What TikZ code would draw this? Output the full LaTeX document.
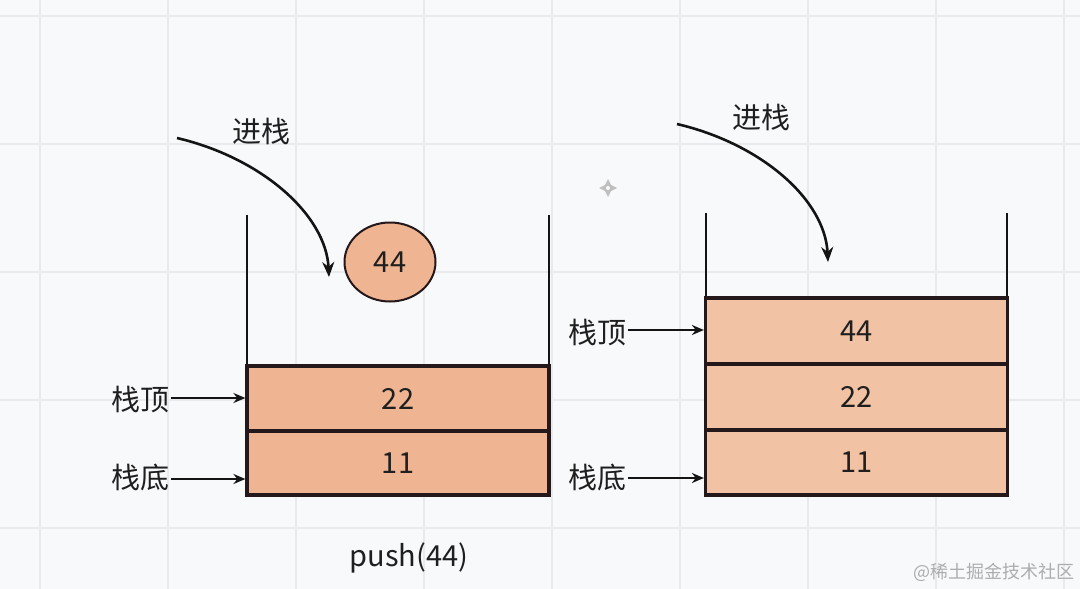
\documentclass[tikz,border=0pt]{standalone}
\usepackage{fontspec}
\setmainfont{Noto Sans CJK SC}
\usetikzlibrary{arrows.meta,shapes.geometric}
\definecolor{bg}{HTML}{F8F9FB}
\definecolor{gridc}{HTML}{E9EAEE}
\definecolor{fillA}{HTML}{EFB592}
\definecolor{fillB}{HTML}{F2C2A4}
\definecolor{edge}{HTML}{24181A}
\definecolor{wm}{HTML}{ADADAD}
\tikzset{
  big/.style={font=\fontsize{29}{34}\selectfont, text=black!88, inner sep=0pt},
  cell/.style={draw=edge, line width=3.2pt, minimum width=302pt, inner sep=0pt, font=\fontsize{29}{34}\selectfont, text=black!88},
  wall/.style={line width=2.6pt, draw=black!92},
  pointer/.style={line width=2.4pt, draw=black!92, -{Stealth[length=12pt,width=10pt]}},
  pushcurve/.style={line width=2.6pt, draw=black!92, -{Stealth[length=15pt,width=12pt]}}
}
\begin{document}
\begin{tikzpicture}[x=1pt,y=-1pt]
\useasboundingbox (0,0) rectangle (1080,589);
\fill[bg] (0,0) rectangle (1080,589);
% grid
\foreach \gx in {40,168,...,1064} \draw[gridc, line width=1.2pt] (\gx,0) -- (\gx,589);
\foreach \gy in {16,144,...,589} \draw[gridc, line width=1.2pt] (0,\gy) -- (1080,\gy);

% left stack
\coordinate (lwl1) at (247,215); \coordinate (lwl2) at (247,495);
\coordinate (lwr1) at (549,215); \coordinate (lwr2) at (549,495);
\draw[wall] (lwl1) -- (lwl2);
\draw[wall] (lwr1) -- (lwr2);
\node[cell, fill=fillA, minimum height=65pt] (b22) at (398,398.5) {22};
\node[cell, fill=fillA, minimum height=64pt] (b11) at (398,463) {11};
\node[draw=edge, line width=2pt, fill=fillA, ellipse, minimum width=91pt, minimum height=79pt, inner sep=0pt, font=\fontsize{29}{34}\selectfont, text=black!88] (c44) at (390,262) {44};

\node[big] (inL) at (261,131) {进栈};
\coordinate (sL) at (177,138);
\draw[pushcurve] (sL) .. controls (262,158) and (326,215) .. (329,277);

\node[big] (topL) at (140,400) {栈顶};
\node[big] (botL) at (140,477) {栈底};
\draw[pointer] (topL.east) ++(2,-2) coordinate (tLs) (tLs) -- (tLs -| b22.west);
\draw[pointer] (botL.east) ++(2,2) coordinate (bLs) (bLs) -- (bLs -| b11.west);

\node[big] (push) at (409,558) {push(44)};

% right stack
\coordinate (rwl1) at (706,213); \coordinate (rwl2) at (706,495);
\coordinate (rwr1) at (1007,213); \coordinate (rwr2) at (1007,495);
\draw[wall] (rwl1) -- (rwl2);
\draw[wall] (rwr1) -- (rwr2);
\node[cell, fill=fillB, minimum height=66pt] (r44) at (856.5,331) {44};
\node[cell, fill=fillB, minimum height=66pt] (r22) at (856.5,397) {22};
\node[cell, fill=fillB, minimum height=65pt] (r11) at (856.5,462.5) {11};

\node[big] (inR) at (761,117) {进栈};
\coordinate (sR) at (677,124);
\draw[pushcurve] (sR) .. controls (762,144) and (825,200) .. (828,262);

\node[big] (topR) at (597,333) {栈顶};
\node[big] (botR) at (597,477) {栈底};
\draw[pointer] (topR.east) ++(2,-3) coordinate (tRs) (tRs) -- (tRs -| r44.west);
\draw[pointer] (botR.east) ++(2,1) coordinate (bRs) (bRs) -- (bRs -| r11.west);

% cursor mark
\coordinate (cur) at (608,188);
\fill[black!25] (cur) ++(0,-9) -- ++(3,6) -- ++(6,3) -- ++(-6,3) -- ++(-3,6) -- ++(-3,-6) -- ++(-6,-3) -- ++(6,-3) -- cycle;
\fill[bg] (cur) circle (2pt);

% watermark
\node[font=\fontsize{18}{20}\selectfont, text=wm, inner sep=0pt, anchor=east] (wmk) at (1075,572) {@稀土掘金技术社区};
\end{tikzpicture}
\end{document}
